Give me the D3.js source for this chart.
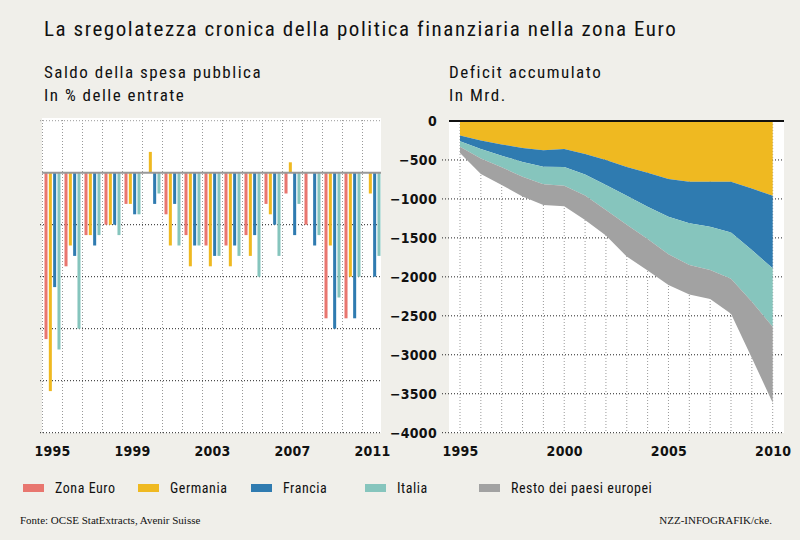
<!DOCTYPE html>
<html>
<head>
<meta charset="utf-8">
<script src="https://cdn.jsdelivr.net/npm/d3@7"></script>
<style>
  body { margin: 0; background: #fff; }
  text { font-family: "Liberation Sans Narrow", "Roboto Condensed", "DejaVu Sans Condensed", sans-serif; fill: #111; }
  .serif { font-family: "Liberation Serif", serif; }
</style>
</head>
<body>
<div id="chart"></div>
<script>
// left chart: budget balance, % of revenue
var years = [1995, 1996, 1997, 1998, 1999, 2000, 2001, 2002, 2003, 2004, 2005, 2006, 2007, 2008, 2009, 2010, 2011];
var zonaEuro = [-16, -9, -6, -5, -3, 0, -4, -6, -7, -7, -6, -3, -2, -5, -14, -14, 0];
var germania = [-21, -7, -6, -5, -3, 2, -7, -9, -9, -9, -8, -4, 1, 0, -7, -10, -2];
var francia  = [-11, -8, -7, -5, -4, -3, -3, -7, -8, -7, -6, -5, -6, -7, -15, -14, -10];
var italia   = [-17, -15, -6, -6, -4, -2, -7, -7, -8, -8, -10, -8, -3, -6, -12, -10, -8];
var leftTickYears = [1995, 1999, 2003, 2007, 2011];

// right chart: accumulated deficit, bn
var areaYears = [1995, 1996, 1997, 1998, 1999, 2000, 2001, 2002, 2003, 2004, 2005, 2006, 2007, 2008, 2009, 2010];
var accGermania = [-185, -250, -300, -345, -375, -360, -422, -500, -590, -665, -745, -779, -779, -779, -865, -960];
var accFrancia  = [-75, -110, -145, -180, -211, -230, -266, -322, -370, -435, -483, -534, -578, -651, -791, -930];
var accItalia   = [-70, -120, -150, -190, -227, -242, -267, -320, -370, -415, -482, -536, -556, -595, -664, -750];
var accResto    = [-80, -200, -225, -255, -265, -261, -315, -328, -410, -405, -395, -376, -372, -450, -720, -975];
var rightTickYears = [1995, 2000, 2005, 2010];

var seriesNames = ["Zona Euro", "Germania", "Francia", "Italia", "Resto dei paesi europei"];
var colors = ["#e8766f", "#efb921", "#2f7bb0", "#86c5bd", "#a2a2a2"];

var W = 800, H = 546;
var svg = d3.select("#chart").append("svg")
    .attr("width", W).attr("height", H);

svg.append("rect").attr("width", W).attr("height", 540).attr("fill", "#f0efea");

// titles
svg.append("text").attr("x", 44).attr("y", 36)
    .style("font-size", "21px").style("letter-spacing", "1.55px")
    .text("La sregolatezza cronica della politica finanziaria nella zona Euro");
var subs = [[44, 78, "Saldo della spesa pubblica"], [44, 101, "In % delle entrate"],
            [449, 78, "Deficit accumulato"], [449, 101, "In Mrd."]];
svg.append("g").selectAll("text").data(subs).join("text")
    .attr("x", function(d) { return d[0]; }).attr("y", function(d) { return d[1]; })
    .style("font-size", "17px").style("letter-spacing", "1.5px")
    .text(function(d) { return d[2]; });

// ---------- left bar chart ----------
var xL = d3.scaleBand().domain(years).range([42.5, 382.5]);
var xSub = d3.scaleBand().domain([0, 1, 2, 3]).range([2, 18]).paddingInner(0.3);
var yL = d3.scaleLinear().domain([-25, 5]).range([432.7, 120.7]);

svg.append("rect").attr("x", 42).attr("y", 118).attr("width", 339).attr("height", 315).attr("fill", "#fff");

// vertical dotted grid at band edges
var edges = years.map(function(d) { return xL(d); });
svg.append("g").selectAll("line").data(edges).join("line")
    .attr("x1", function(d) { return d; }).attr("x2", function(d) { return d; })
    .attr("y1", 120).attr("y2", 433)
    .attr("stroke", "#999").attr("stroke-dasharray", "1,2");

// horizontal dotted grid
svg.append("g").selectAll("line").data([-25, -20, -15, -10, -5, 5]).join("line")
    .attr("x1", 40).attr("x2", 381)
    .attr("y1", function(d) { return yL(d); }).attr("y2", function(d) { return yL(d); })
    .attr("stroke", function(d) { return d === 5 ? "#999" : "#222"; })
    .attr("stroke-dasharray", "1,2");

var barSeries = [zonaEuro, germania, francia, italia];
barSeries.forEach(function(vals, si) {
  svg.append("g").selectAll("rect").data(years).join("rect")
      .attr("x", function(d) { return xL(d) + xSub(si); })
      .attr("width", xSub.bandwidth())
      .attr("y", function(d, i) { return yL(Math.max(0, vals[i])); })
      .attr("height", function(d, i) { return Math.abs(yL(vals[i]) - yL(0)); })
      .attr("fill", colors[si]);
});

// zero line
svg.append("line").attr("x1", 42).attr("x2", 381)
    .attr("y1", yL(0)).attr("y2", yL(0))
    .attr("stroke", "#999").attr("stroke-width", 2);

var axL = svg.append("g").attr("transform", "translate(0,433)")
    .call(d3.axisBottom(xL).tickValues(leftTickYears).tickSize(0).tickPadding(13));
axL.select(".domain").remove();

// ---------- right stacked area chart ----------
var xR = d3.scaleLinear().domain([1995, 2010]).range([460, 772.7]);
var yR = d3.scaleLinear().domain([-4000, 0]).range([432.7, 121]);

svg.append("rect").attr("x", 449).attr("y", 121).attr("width", 335).attr("height", 312).attr("fill", "#fff");

svg.append("g").selectAll("line").data(areaYears).join("line")
    .attr("x1", function(d) { return xR(d); }).attr("x2", function(d) { return xR(d); })
    .attr("y1", 121).attr("y2", 433)
    .attr("stroke", "#999").attr("stroke-dasharray", "1,2");

svg.append("g").selectAll("line").data(d3.range(-4000, 0, 500)).join("line")
    .attr("x1", 442).attr("x2", 784)
    .attr("y1", function(d) { return yR(d); }).attr("y2", function(d) { return yR(d); })
    .attr("stroke", "#222").attr("stroke-dasharray", "1,2");

var table = areaYears.map(function(yr, i) {
  return { year: yr, Germania: accGermania[i], Francia: accFrancia[i], Italia: accItalia[i], Resto: accResto[i] };
});
var stack = d3.stack().keys(["Germania", "Francia", "Italia", "Resto"]).offset(d3.stackOffsetDiverging);
var layers = stack(table);

var area = d3.area()
    .x(function(d) { return xR(d.data.year); })
    .y0(function(d) { return yR(d[0]); })
    .y1(function(d) { return yR(d[1]); });

svg.append("g").selectAll("path").data(layers).join("path")
    .attr("d", area)
    .attr("fill", function(d, i) { return colors[i + 1]; });

svg.append("line").attr("x1", 449).attr("x2", 784)
    .attr("y1", yR(0)).attr("y2", yR(0))
    .attr("stroke", "#111").attr("stroke-width", 2);

var ayR = svg.append("g").attr("transform", "translate(440,0)")
    .call(d3.axisLeft(yR).tickValues(d3.range(-4000, 1, 500)).tickSize(0).tickPadding(3)
      .tickFormat(function(d) { return String(d).replace("-", "\u2212"); }));
ayR.select(".domain").remove();

var axR = svg.append("g").attr("transform", "translate(0,433)")
    .call(d3.axisBottom(xR).tickValues(rightTickYears).tickSize(0).tickPadding(13).tickFormat(d3.format("d")));
axR.select(".domain").remove();

svg.selectAll(".tick text").style("font-size", "14px").style("font-weight", "bold")
    .style("letter-spacing", "0.3px")
    .style("font-family", "'Liberation Sans Narrow', 'DejaVu Sans Condensed', sans-serif").attr("fill", "#111");

// ---------- legend ----------
var legendX = [23, 138, 251, 365, 479];
var lg = svg.append("g").selectAll("g").data(seriesNames).join("g")
    .attr("transform", function(d, i) { return "translate(" + legendX[i] + ",488)"; });
lg.append("rect").attr("x", 0).attr("y", -4).attr("width", 21).attr("height", 8)
    .attr("fill", function(d, i) { return colors[i]; });
lg.append("text").attr("x", 32).attr("y", 5).style("font-size", "14px").style("letter-spacing", "0.55px")
    .text(function(d) { return d; });

// ---------- footer ----------
svg.append("text").attr("class", "serif").attr("x", 20).attr("y", 524)
    .style("font-size", "11px").text("Fonte: OCSE StatExtracts, Avenir Suisse");
svg.append("text").attr("class", "serif").attr("x", 772).attr("y", 524)
    .attr("text-anchor", "end").style("font-size", "11px").text("NZZ-INFOGRAFIK/cke.");
</script>
</body>
</html>
